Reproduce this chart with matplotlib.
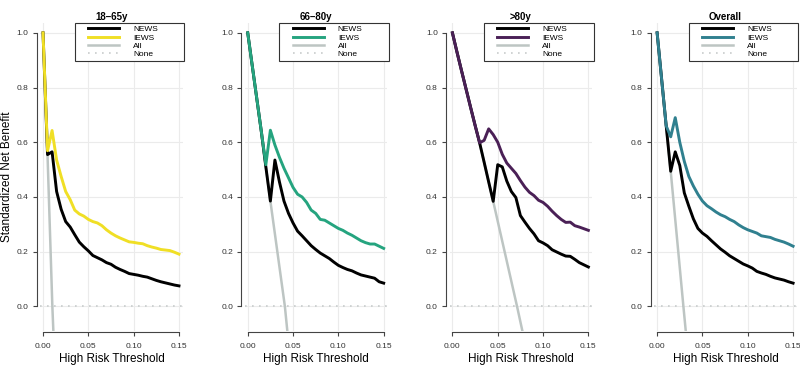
import numpy as np
import matplotlib.pyplot as plt
from matplotlib.lines import Line2D
from matplotlib.legend_handler import HandlerLine2D

plt.rcParams['font.family'] = ['Liberation Sans', 'DejaVu Sans']

# threshold grid (0 to 0.15 by 0.005)
thresholds = np.linspace(0, 0.15, 31)

titles = ['18\u201365y', '66\u201380y', '>80y', 'Overall']
iews_colors = ['#F0DF25', '#25A47F', '#4A2056', '#30808F']

news_1865 = [1.000, 0.555, 0.565, 0.420, 0.355, 0.310, 0.290, 0.262, 0.235, 0.218,
             0.203, 0.186, 0.178, 0.170, 0.160, 0.154, 0.143, 0.135, 0.128, 0.120,
             0.117, 0.114, 0.110, 0.107, 0.101, 0.095, 0.090, 0.086, 0.082, 0.078, 0.075]
iews_1865 = [1.000, 0.569, 0.643, 0.535, 0.475, 0.420, 0.390, 0.352, 0.338, 0.330,
             0.318, 0.310, 0.305, 0.295, 0.280, 0.268, 0.258, 0.250, 0.243, 0.236,
             0.234, 0.231, 0.229, 0.222, 0.217, 0.213, 0.208, 0.206, 0.204, 0.198, 0.191]

news_6680 = [1.000, 0.880, 0.760, 0.640, 0.510, 0.385, 0.535, 0.455, 0.385, 0.340,
             0.305, 0.275, 0.258, 0.240, 0.222, 0.208, 0.195, 0.185, 0.175, 0.162,
             0.150, 0.142, 0.135, 0.130, 0.122, 0.115, 0.111, 0.107, 0.103, 0.090, 0.085]
iews_6680 = [1.000, 0.880, 0.760, 0.640, 0.518, 0.644, 0.590, 0.545, 0.505, 0.470,
             0.435, 0.410, 0.400, 0.380, 0.352, 0.340, 0.318, 0.315, 0.305, 0.295,
             0.285, 0.278, 0.268, 0.260, 0.250, 0.240, 0.233, 0.228, 0.228, 0.220, 0.212]

news_80 = [1.000, 0.930, 0.862, 0.795, 0.728, 0.662, 0.598, 0.527, 0.455, 0.384,
           0.518, 0.510, 0.458, 0.420, 0.398, 0.332, 0.308, 0.285, 0.265, 0.240,
           0.232, 0.222, 0.207, 0.199, 0.191, 0.184, 0.183, 0.172, 0.160, 0.152, 0.144]
iews_80 = [1.000, 0.930, 0.862, 0.795, 0.728, 0.662, 0.598, 0.607, 0.649, 0.628,
           0.600, 0.556, 0.524, 0.505, 0.486, 0.460, 0.436, 0.417, 0.405, 0.388,
           0.380, 0.366, 0.348, 0.332, 0.318, 0.307, 0.308, 0.295, 0.290, 0.284, 0.278]

news_all = [1.000, 0.830, 0.660, 0.494, 0.565, 0.515, 0.415, 0.366, 0.320, 0.285,
            0.268, 0.256, 0.240, 0.225, 0.210, 0.198, 0.185, 0.175, 0.165, 0.155,
            0.148, 0.140, 0.128, 0.122, 0.117, 0.110, 0.104, 0.100, 0.096, 0.090, 0.085]
iews_all = [1.000, 0.830, 0.660, 0.620, 0.690, 0.600, 0.530, 0.475, 0.440, 0.410,
            0.385, 0.368, 0.357, 0.345, 0.335, 0.328, 0.318, 0.310, 0.298, 0.288,
            0.280, 0.274, 0.268, 0.258, 0.255, 0.252, 0.245, 0.240, 0.235, 0.228, 0.220]

# "treat all" strategy
all_x = [[0.0, 0.005, 0.0103, 0.0114],
         [0.0, 0.020, 0.025, 0.041, 0.0437],
         [0.0, 0.030, 0.045, 0.0713, 0.0772],
         [0.0, 0.010, 0.015, 0.029, 0.0316]]
all_y = [[1.0, 0.55, 0.0, -0.09],
         [1.0, 0.51, 0.385, 0.0, -0.09],
         [1.0, 0.598, 0.384, 0.0, -0.09],
         [1.0, 0.66, 0.494, 0.0, -0.09]]

news = [news_1865, news_6680, news_80, news_all]
iews = [iews_1865, iews_6680, iews_80, iews_all]

fig = plt.figure(figsize=(8, 3.7), dpi=100)

for i in range(4):
    left = (40.3 + 204.7 * i) / 800
    ax = fig.add_axes([left, 39 / 370, 142.3 / 800, 308 / 370])
    ax.set_xlim(-0.003, 0.154)
    ax.set_ylim(-0.09, 1.036)
    ax.set_axisbelow(True)
    ax.grid(True, color='#EBEBEB', lw=0.8)

    ax.axhline(0, color='#C8CCCC', lw=1.2, ls=(0, (1, 3.2)), label='None')
    ax.plot(all_x[i], all_y[i], color='#BDC5C3', lw=1.8, label='All')
    ax.plot(thresholds, news[i], color='black', lw=2.1, label='NEWS')
    ax.plot(thresholds, iews[i], color=iews_colors[i], lw=2.1, label='IEWS')

    ax.set_xticks([0, 0.05, 0.10, 0.15])
    ax.set_xticklabels(['0.00', '0.05', '0.10', '0.15'])
    ax.set_yticks([0, 0.2, 0.4, 0.6, 0.8, 1.0])
    ax.set_yticklabels(['0.0', '0.2', '0.4', '0.6', '0.8', '1.0'], rotation=90, va='center')
    ax.tick_params(labelsize=6, labelcolor='#333333', color='#444444', length=3, width=0.8, pad=3)
    ax.tick_params(axis='x', pad=4.5)

    for s in ['top', 'right']:
        ax.spines[s].set_visible(False)
    ax.spines['left'].set_position(('outward', 2.6))
    ax.spines['bottom'].set_position(('outward', 1))
    ax.spines['left'].set_bounds(0, 1)
    ax.spines['bottom'].set_bounds(0, 0.15)
    for s in ['left', 'bottom']:
        ax.spines[s].set_color('#444444')
        ax.spines[s].set_linewidth(0.8)

    ax.set_title(titles[i], fontsize=7, fontweight='bold', pad=2.5)
    ax.set_xlabel('High Risk Threshold', fontsize=8.5, labelpad=2.5)
    if i == 0:
        ax.set_ylabel('Standardized Net Benefit', fontsize=8.5)
        ax.yaxis.set_label_coords(-0.19, 0.5)

    h, l = ax.get_legend_handles_labels()
    order = [2, 3, 1, 0]
    leg = ax.legend([h[k] for k in order], [l[k] for k in order],
                    loc='upper left', bbox_to_anchor=(0.242, 0.0, 0.77, 1.0), mode='expand',
                    borderaxespad=0, fontsize=6, labelspacing=0.05, borderpad=0.3,
                    handlelength=5.0, handletextpad=1.7, fancybox=False, framealpha=1,
                    edgecolor='#333333', handler_map={Line2D: HandlerLine2D(xpad=1.3)})
    leg.get_frame().set_linewidth(0.8)

fig.savefig('out.png', dpi=100)
